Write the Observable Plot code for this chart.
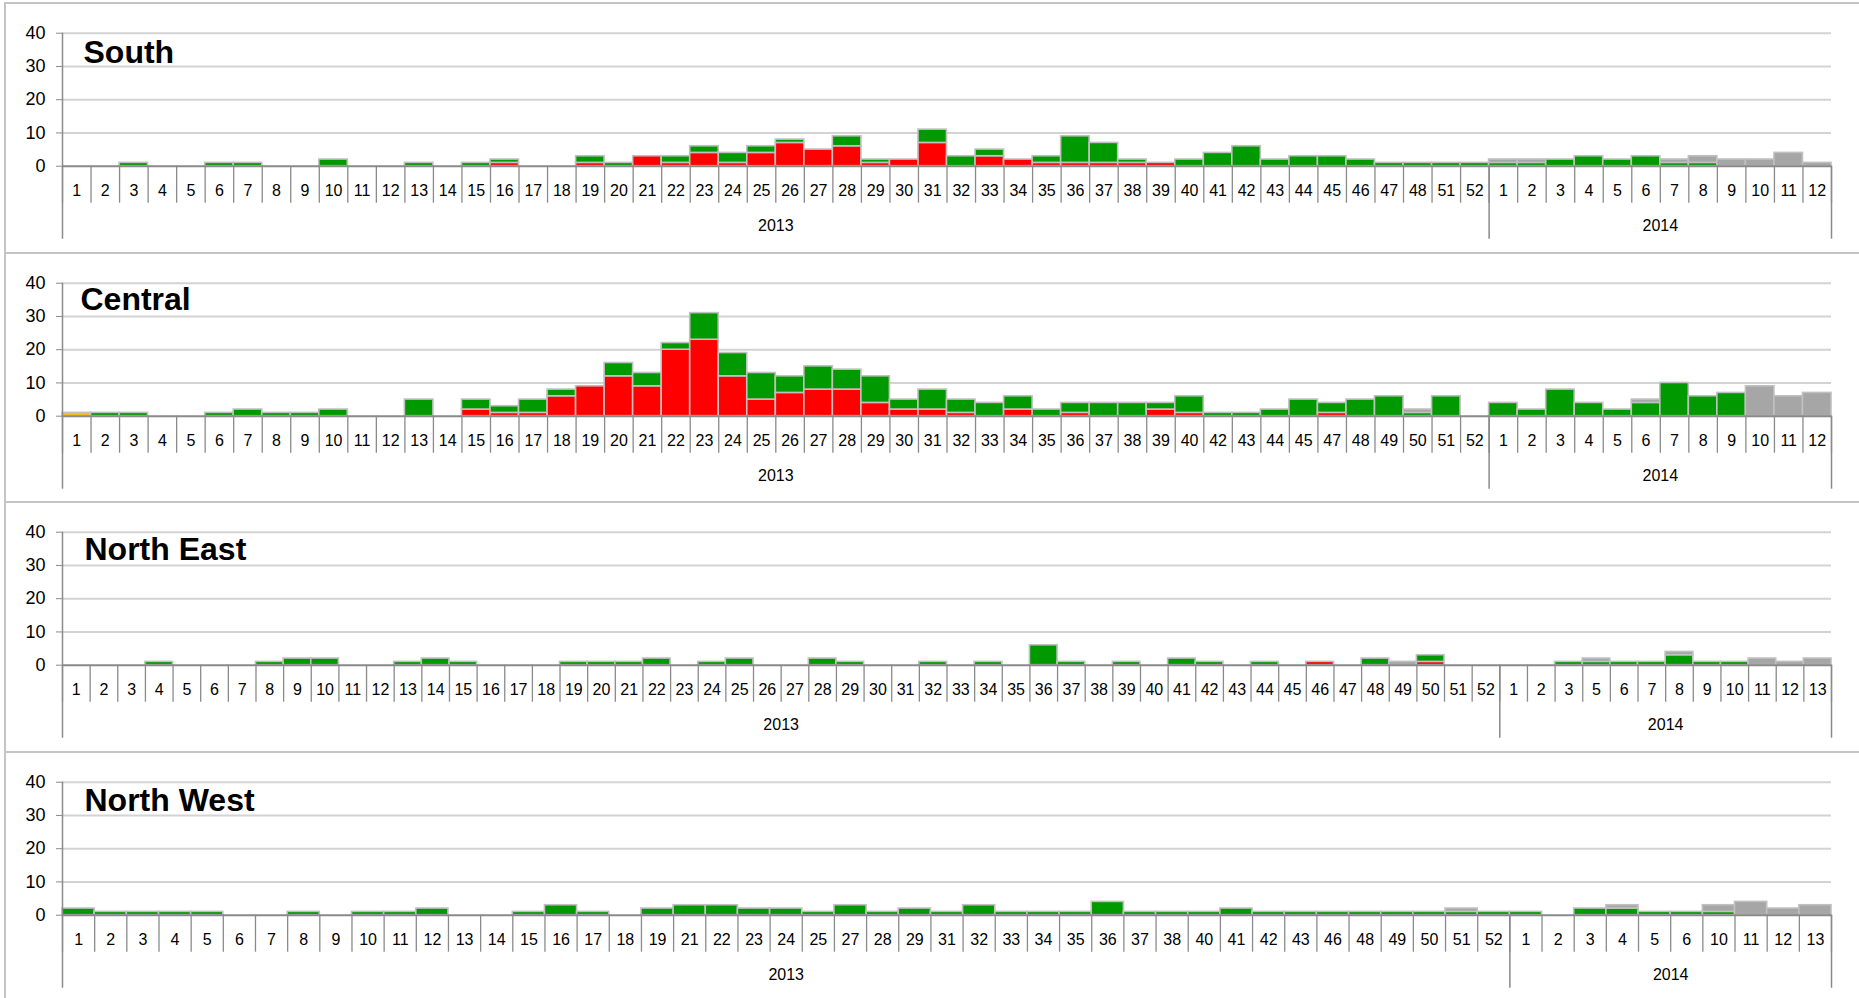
<!DOCTYPE html>
<html>
<head>
<meta charset="utf-8">
<script src="https://cdn.jsdelivr.net/npm/d3@7"></script>
<script src="https://cdn.jsdelivr.net/npm/@observablehq/plot@0.6"></script>
<style>
html, body { margin: 0; padding: 0; background: #fff; width: 1859px; height: 998px; overflow: hidden; font-family: "Liberation Sans", Arial, sans-serif; }
.panel { position: absolute; left: 0; width: 1859px; height: 250px; }
.panel svg { background: transparent !important; overflow: visible; }
.frame { position: absolute; left: 4px; width: 1860px; height: 252px; border-top: 2px solid #c4c4c4; border-left: 2px solid #c4c4c4; box-sizing: border-box; pointer-events: none; z-index: 2; }
</style>
</head>
<body>
<script>
// ---------- series ----------
const seriesNames = ["Yellow", "Red", "Green", "Gray"];
const seriesColors = ["#FFC000", "#FF0000", "#009900", "#A6A6A6"];
const yTicks = [0, 10, 20, 30, 40];
const gridTicks = [10, 20, 30, 40];

// ---------- South ----------
const southWeeks2013 = [1,2,3,4,5,6,7,8,9,10,11,12,13,14,15,16,17,18,19,20,21,22,23,24,25,26,27,28,29,30,31,32,33,34,35,36,37,38,39,40,41,42,43,44,45,46,47,48,51,52];
const southWeeks2014 = [1,2,3,4,5,6,7,8,9,10,11,12];
const southYellow = [
  0,0,0,0,0,0,0,0,0,0, 0,0,0,0,0,0,0,0,0,0, 0,0,0,0,0,0,0,0,0,0, 0,0,0,0,0,0,0,0,0,0, 0,0,0,0,0,0,0,0,0,0,
  0,0,0,0,0,0,0,0,0,0,0,0];
const southRed = [
  0,0,0,0,0,0,0,0,0,0,
  0,0,0,0,0,1,0,0,1,0,
  3,1,4,1,4,7,5,6,1,2,
  7,0,3,2,1,1,1,1,1,0,
  0,0,0,0,0,0,0,0,0,0,
  0,0,0,0,0,0,0,0,0,0,0,0];
const southGreen = [
  0,0,1,0,0,1,1,0,0,2,
  0,0,1,0,1,1,0,0,2,1,
  0,2,2,3,2,1,0,3,1,0,
  4,3,2,0,2,8,6,1,0,2,
  4,6,2,3,3,2,1,1,1,1,
  1,1,2,3,2,3,1,1,0,0,0,0];
const southGray = [
  0,0,0,0,0,0,0,0,0,0, 0,0,0,0,0,0,0,0,0,0, 0,0,0,0,0,0,0,0,0,0, 0,0,0,0,0,0,0,0,0,0, 0,0,0,0,0,0,0,0,0,0,
  1,1,0,0,0,0,1,2,2,2,4,1];

// ---------- Central ----------
const centralWeeks2013 = [1,2,3,4,5,6,7,8,9,10,11,12,13,14,15,16,17,18,19,20,21,22,23,24,25,26,27,28,29,30,31,32,33,34,35,36,37,38,39,40,42,43,44,45,47,48,49,50,51,52];
const centralWeeks2014 = [1,2,3,4,5,6,7,8,9,10,11,12];
const centralYellow = [
  1,0,0,0,0,0,0,0,0,0, 0,0,0,0,0,0,0,0,0,0, 0,0,0,0,0,0,0,0,0,0, 0,0,0,0,0,0,0,0,0,0, 0,0,0,0,0,0,0,0,0,0,
  0,0,0,0,0,0,0,0,0,0,0,0];
const centralRed = [
  0,0,0,0,0,0,0,0,0,0,
  0,0,0,0,2,1,1,6,9,12,
  9,20,23,12,5,7,8,8,4,2,
  2,1,0,2,0,1,0,0,2,1,
  0,0,0,0,1,0,0,0,0,0,
  0,0,0,0,0,0,0,0,0,0,0,0];
const centralGreen = [
  0,1,1,0,0,1,2,1,1,2,
  0,0,5,0,3,2,4,2,0,4,
  4,2,8,7,8,5,7,6,8,3,
  6,4,4,4,2,3,4,4,2,5,
  1,1,2,5,3,5,6,1,6,0,
  4,2,8,4,2,4,10,6,7,0,0,0];
const centralGray = [
  0,0,0,0,0,0,0,0,0,0, 0,0,0,0,0,0,0,0,0,0, 0,0,0,0,0,0,0,0,0,0, 0,0,0,0,0,0,0,0,0,0,
  0,0,0,0,0,0,0,1,0,0,
  0,0,0,0,0,1,0,0,0,9,6,7];

// ---------- North East ----------
const neWeeks2013 = [1,2,3,4,5,6,7,8,9,10,11,12,13,14,15,16,17,18,19,20,21,22,23,24,25,26,27,28,29,30,31,32,33,34,35,36,37,38,39,40,41,42,43,44,45,46,47,48,49,50,51,52];
const neWeeks2014 = [1,2,3,5,6,7,8,9,10,11,12,13];
const neYellow = [
  0,0,0,0,0,0,0,0,0,0, 0,0,0,0,0,0,0,0,0,0, 0,0,0,0,0,0,0,0,0,0, 0,0,0,0,0,0,0,0,0,0, 0,0,0,0,0,0,0,0,0,0, 0,0,
  0,0,0,0,0,0,0,0,0,0,0,0];
const neRed = [
  0,0,0,0,0,0,0,0,0,0,
  0,0,0,0,0,0,0,0,0,0,
  0,0,0,0,0,0,0,0,0,0,
  0,0,0,0,0,0,0,0,0,0,
  0,0,0,0,0,1,0,0,0,1,
  0,0,
  0,0,0,0,0,0,0,0,0,0,0,0];
const neGreen = [
  0,0,0,1,0,0,0,1,2,2,
  0,0,1,2,1,0,0,0,1,1,
  1,2,0,1,2,0,0,2,1,0,
  0,1,0,1,0,6,1,0,1,0,
  2,1,0,1,0,0,0,2,0,2,
  0,0,
  0,0,1,1,1,1,3,1,1,0,0,0];
const neGray = [
  0,0,0,0,0,0,0,0,0,0,
  0,0,0,0,0,0,0,0,0,0,
  0,0,0,0,0,0,0,0,0,0,
  0,0,0,0,0,0,0,0,0,0,
  0,0,0,0,0,0,0,0,1,0,
  0,0,
  0,0,0,1,0,0,1,0,0,2,1,2];

// ---------- North West ----------
const nwWeeks2013 = [1,2,3,4,5,6,7,8,9,10,11,12,13,14,15,16,17,18,19,21,22,23,24,25,27,28,29,31,32,33,34,35,36,37,38,40,41,42,43,46,48,49,50,51,52];
const nwWeeks2014 = [1,2,3,4,5,6,10,11,12,13];
const nwYellow = [
  0,0,0,0,0,0,0,0,0,0, 0,0,0,0,0,0,0,0,0, 0,0,0,0,0, 0,0,0, 0,0,0,0,0,0,0,0, 0,0,0,0, 0, 0,0,0,0,0,
  0,0,0,0,0,0,0,0,0,0];
const nwRed = [
  0,0,0,0,0,0,0,0,0,0, 0,0,0,0,0,0,0,0,0, 0,0,0,0,0, 0,0,0, 0,0,0,0,0,0,0,0, 0,0,0,0, 0, 0,0,0,0,0,
  0,0,0,0,0,0,0,0,0,0];
const nwGreen = [
  2,1,1,1,1,0,0,1,0,1,
  1,2,0,0,1,3,1,0,2,
  3,3,2,2,1,
  3,1,2,
  1,3,1,1,1,4,1,1,
  1,2,1,1,
  1,
  1,1,1,1,1,
  1,0,2,2,1,1,1,0,0,0];
const nwGray = [
  0,0,0,0,0,0,0,0,0,0,
  0,0,0,0,0,0,0,0,0,
  0,0,0,0,0,
  0,0,0,
  0,0,0,0,0,0,0,0,
  0,0,0,0,
  0,
  0,0,0,1,0,
  0,0,0,1,0,0,2,4,2,3];

// ---------- panels (styling only) ----------
const panels = [
  {title: "South",      weeks2013: southWeeks2013,   weeks2014: southWeeks2014,   series: [southYellow, southRed, southGreen, southGray],         titleDx: 21, titleDy: 20},
  {title: "Central",    weeks2013: centralWeeks2013, weeks2014: centralWeeks2014, series: [centralYellow, centralRed, centralGreen, centralGray], titleDx: 18, titleDy: 16.5},
  {title: "North East", weeks2013: neWeeks2013,      weeks2014: neWeeks2014,      series: [neYellow, neRed, neGreen, neGray],                     titleDx: 22, titleDy: 18},
  {title: "North West", weeks2013: nwWeeks2013,      weeks2014: nwWeeks2014,      series: [nwYellow, nwRed, nwGreen, nwGray],                     titleDx: 22, titleDy: 19}
];

const colorOf = Object.fromEntries(seriesNames.map((s, j) => [s, seriesColors[j]]));
const panelStep = 249.5;
const panelTop0 = 2;

panels.forEach((p, k) => {
  const cats = [
    ...p.weeks2013.map(w => ({week: w, year: 2013})),
    ...p.weeks2014.map(w => ({week: w, year: 2014}))
  ].map((d, i) => ({...d, i, mid: i + 0.5}));
  const n = cats.length;
  const b = p.weeks2013.length;

  const rows = [];
  cats.forEach((c, i) => {
    seriesNames.forEach((s, j) => {
      const v = p.series[j][i];
      if (v > 0) rows.push({i, i2: i + 1, series: s, value: v});
    });
  });

  const years = [
    {year: "2013", mid: b / 2},
    {year: "2014", mid: (b + n) / 2}
  ];

  const chart = Plot.plot({
    width: 1859,
    height: 250,
    marginLeft: 62,
    marginRight: 28,
    marginTop: 30.7,
    marginBottom: 86.3,
    style: {fontFamily: "'Liberation Sans', Arial, sans-serif", fontSize: "16px", background: "transparent", color: "#000"},
    x: {domain: [0, n], label: null},
    y: {domain: [0, 40], label: null},
    marks: [
      Plot.gridY(gridTicks, {stroke: "#d3d3d3", strokeOpacity: 1, strokeWidth: 2}),
      Plot.rect(rows, Plot.stackY({x: "i", y: "value", z: "series", order: seriesNames, x1: "i", x2: "i2", fill: d => colorOf[d.series], stroke: "#c0c0c0", strokeWidth: 1.6})),
      Plot.ruleY([0], {stroke: "#8a8a8a", strokeWidth: 2}),
      Plot.ruleX([0], {stroke: "#8a8a8a", strokeWidth: 1.5}),
      Plot.axisY(yTicks, {tickSize: 6, tickPadding: 11, fontSize: 18, stroke: "#8a8a8a", fill: "#000", label: null}),
      Plot.axisX(d3.range(n + 1), {tickSize: 37, tickFormat: () => "", stroke: "#8a8a8a", strokeWidth: 1.3, label: null}),
      Plot.axisX([0, b, n], {tickSize: 73, tickFormat: () => "", stroke: "#8a8a8a", strokeWidth: 1.5, label: null}),
      Plot.text(cats, {x: "mid", text: d => String(d.week), frameAnchor: "bottom", lineAnchor: "middle", dy: 25, fontSize: 16, fill: "#000"}),
      Plot.text(years, {x: "mid", text: "year", frameAnchor: "bottom", lineAnchor: "middle", dy: 60, fontSize: 16, fill: "#000"}),
      Plot.text([p.title], {text: d => d, frameAnchor: "top-left", textAnchor: "start", lineAnchor: "middle", dx: p.titleDx, dy: p.titleDy, fontSize: 32, fontWeight: "bold", fill: "#000"})
    ]
  });

  const top = panelTop0 + k * panelStep;
  const div = document.createElement("div");
  div.className = "panel";
  div.style.top = top + "px";
  div.appendChild(chart);
  document.body.appendChild(div);

  const frame = document.createElement("div");
  frame.className = "frame";
  frame.style.top = top + "px";
  document.body.appendChild(frame);
});
</script>
</body>
</html>
